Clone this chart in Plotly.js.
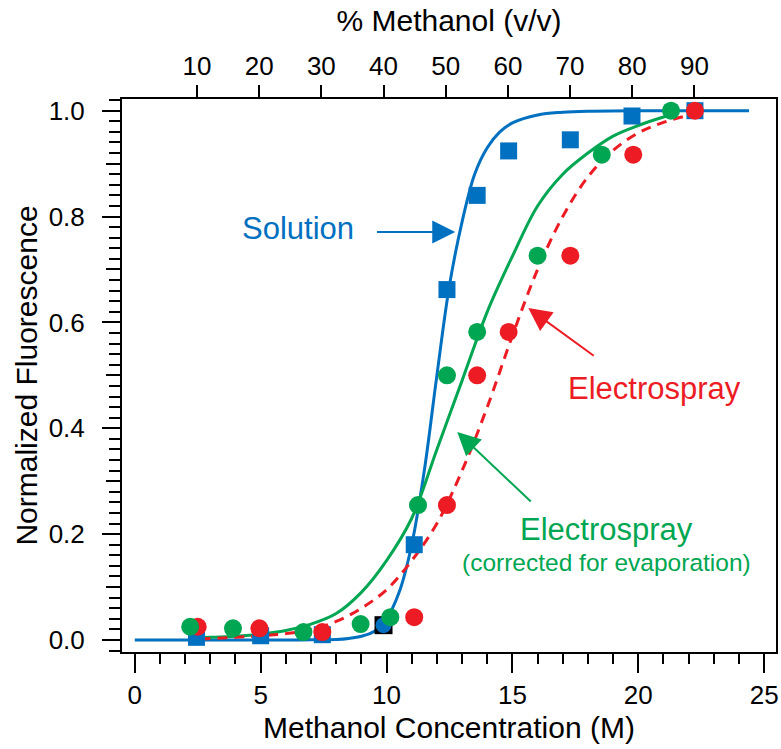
<!DOCTYPE html>
<html><head><meta charset="utf-8">
<script src="https://cdn.plot.ly/plotly-3.0.1.min.js"></script>
<style>html,body{margin:0;padding:0;background:#fff}</style>
</head><body><div id="chart" style="width:781px;height:749px"></div>
<script>
// Methanol concentration (M) and normalized fluorescence
const solutionX = [2.45, 5.0, 7.45, 11.1, 12.4, 13.6, 14.85, 17.3, 19.75, 22.25];
const solutionY = [0.005, 0.008, 0.01, 0.18, 0.662, 0.84, 0.924, 0.945, 0.99, 1.0];
const outlierX = [9.88];
const outlierY = [0.028];
const sprayX = [2.5, 4.95, 7.45, 11.1, 12.4, 13.6, 14.85, 17.3, 19.8, 22.25];
const sprayY = [0.025, 0.022, 0.015, 0.043, 0.255, 0.50, 0.582, 0.726, 0.917, 1.0];
const corrX = [2.2, 3.9, 6.7, 8.97, 10.15, 11.25, 12.4, 13.6, 16.0, 18.55, 21.3];
const corrY = [0.025, 0.022, 0.015, 0.03, 0.043, 0.255, 0.50, 0.582, 0.726, 0.917, 1.0];

// fitted curves
const solFitX = [0, 2, 4, 6, 7, 8, 8.5, 9, 9.5, 10, 10.5, 11, 11.5, 12, 12.5, 13, 13.5, 14, 14.5, 15, 16, 17, 18, 20, 22, 24.4];
const solFitY = [0, 0, 0, 0, 0.0003, 0.001, 0.003, 0.007, 0.016, 0.04, 0.09, 0.18, 0.32, 0.50, 0.67, 0.79, 0.88, 0.93, 0.96, 0.977, 0.992, 0.997, 0.999, 1, 1, 1];
const corrFitX = [2.2, 3, 4, 5, 6, 7, 8, 9, 10, 11, 12, 13, 14, 15, 16, 17, 18, 19, 20, 21, 21.3];
const corrFitY = [0.004, 0.005, 0.007, 0.011, 0.018, 0.03, 0.05, 0.09, 0.15, 0.23, 0.36, 0.49, 0.62, 0.725, 0.82, 0.88, 0.92, 0.952, 0.972, 0.988, 0.992];
const sprayFitX = [2.6, 4, 5, 6, 7, 8, 9, 10, 11, 12, 13, 14, 15, 16, 17, 18, 19, 20, 21, 22.3];
const sprayFitY = [0.002, 0.005, 0.008, 0.012, 0.02, 0.035, 0.06, 0.095, 0.15, 0.22, 0.32, 0.44, 0.575, 0.70, 0.80, 0.875, 0.925, 0.958, 0.978, 0.995];

const pctTicks = [10, 20, 30, 40, 50, 60, 70, 80, 90];
const pureMethanolM = 24.7;

const BLUE = '#0070C0', GREEN = '#00A651', RED = '#ED1C24';
const FONT = 'Liberation Sans, Arial, Helvetica, sans-serif';
const xr = [-0.508, 25.47];
const yr = [-0.0227, 1.0221];

const traces = [
  {x: solFitX, y: solFitY, mode: 'lines', line: {color: BLUE, width: 3, shape: 'spline'}, hoverinfo: 'skip'},
  {x: corrFitX, y: corrFitY, mode: 'lines', line: {color: GREEN, width: 3, shape: 'spline'}, hoverinfo: 'skip'},
  {x: sprayFitX, y: sprayFitY, mode: 'lines', line: {color: RED, width: 3, shape: 'spline', dash: '10px,7px'}, hoverinfo: 'skip'},
  {x: solutionX, y: solutionY, mode: 'markers', marker: {symbol: 'square', size: 17, color: BLUE}},
  {x: outlierX, y: outlierY, mode: 'markers', marker: {symbol: 'square', size: 18, color: '#000'}},
  {x: outlierX, y: outlierY, mode: 'markers', marker: {symbol: 'circle', size: 16, color: BLUE}},
  {x: sprayX, y: sprayY, mode: 'markers', marker: {symbol: 'circle', size: 18, color: RED}},
  {x: corrX, y: corrY, mode: 'markers', marker: {symbol: 'circle', size: 18, color: GREEN}},
  {x: [], y: [], xaxis: 'x2', yaxis: 'y', mode: 'markers'},
  {x: [], y: [], xaxis: 'x', yaxis: 'y3', mode: 'markers'}
];

const layout = {
  width: 781, height: 749,
  margin: {l: 122, r: 5, t: 99, b: 97},
  paper_bgcolor: '#fff', plot_bgcolor: '#fff',
  showlegend: false,
  font: {family: FONT, color: '#000', size: 26},
  xaxis: {
    range: xr, showgrid: false, zeroline: false,
    showline: true, linecolor: '#000', linewidth: 2, mirror: true,
    ticks: 'outside', ticklen: 19, tickwidth: 2, tickcolor: '#000',
    tick0: 0, dtick: 5,
    minor: {dtick: 1, ticklen: 10, tickwidth: 2, tickcolor: '#000', ticks: 'outside', showgrid: false},
    tickfont: {size: 26, family: FONT},
    title: {text: 'Methanol Concentration (M)', font: {size: 30, family: FONT}, standoff: 8}
  },
  xaxis2: {
    overlaying: 'x', side: 'top', anchor: 'y',
    range: [xr[0] * 100 / pureMethanolM, xr[1] * 100 / pureMethanolM],
    showgrid: false, zeroline: false, showline: false,
    ticks: 'outside', ticklen: 13, tickwidth: 2, tickcolor: '#000',
    tickmode: 'array', tickvals: pctTicks, ticktext: pctTicks.map(String),
    tickfont: {size: 26, family: FONT},
    title: {text: '% Methanol (v/v)', font: {size: 30, family: FONT}, standoff: 10}
  },
  yaxis: {
    range: yr, showgrid: false, zeroline: false,
    showline: true, linecolor: '#000', linewidth: 2, mirror: true,
    ticks: 'outside', ticklen: 18, tickwidth: 2, tickcolor: '#000',
    tick0: 0, dtick: 0.2, tickformat: '.1f',
    ticklabelstandoff: 12,
    minor: {dtick: 0.02, ticklen: 11, tickwidth: 2, tickcolor: '#000', ticks: 'outside', showgrid: false},
    tickfont: {size: 26, family: FONT},
    title: {text: 'Normalized Fluorescence', font: {size: 30, family: FONT}, standoff: 2}
  },
  yaxis3: {
    overlaying: 'y', side: 'left', anchor: 'x', range: yr,
    showgrid: false, zeroline: false, showline: false,
    ticks: 'outside', ticklen: 15, tickwidth: 2, tickcolor: '#000',
    tick0: 0, dtick: 0.1, showticklabels: false
  },
  annotations: [
    {x: 6.5, y: 0.778, xref: 'x', yref: 'y', text: 'Solution', showarrow: false, font: {size: 31, color: BLUE, family: FONT}},
    {x: 12.73, y: 0.771, ax: 9.56, ay: 0.771, axref: 'x', ayref: 'y', xref: 'x', yref: 'y', text: '', showarrow: true, arrowhead: 2, arrowsize: 2.3, arrowwidth: 2, arrowcolor: BLUE},
    {x: 20.64, y: 0.476, xref: 'x', yref: 'y', text: 'Electrospray', showarrow: false, font: {size: 31, color: RED, family: FONT}},
    {x: 15.63, y: 0.627, ax: 18.29, ay: 0.535, axref: 'x', ayref: 'y', xref: 'x', yref: 'y', text: '', showarrow: true, arrowhead: 2, arrowsize: 2.3, arrowwidth: 2, arrowcolor: RED},
    {x: 18.74, y: 0.208, xref: 'x', yref: 'y', text: 'Electrospray', showarrow: false, font: {size: 31, color: GREEN, family: FONT}},
    {x: 18.74, y: 0.147, xref: 'x', yref: 'y', text: '(corrected for evaporation)', showarrow: false, font: {size: 24.5, color: GREEN, family: FONT}},
    {x: 12.81, y: 0.393, ax: 15.79, ay: 0.259, axref: 'x', ayref: 'y', xref: 'x', yref: 'y', text: '', showarrow: true, arrowhead: 2, arrowsize: 2.3, arrowwidth: 2, arrowcolor: GREEN}
  ]
};

Plotly.newPlot('chart', traces, layout, {staticPlot: true, displayModeBar: false});
</script></body></html>
